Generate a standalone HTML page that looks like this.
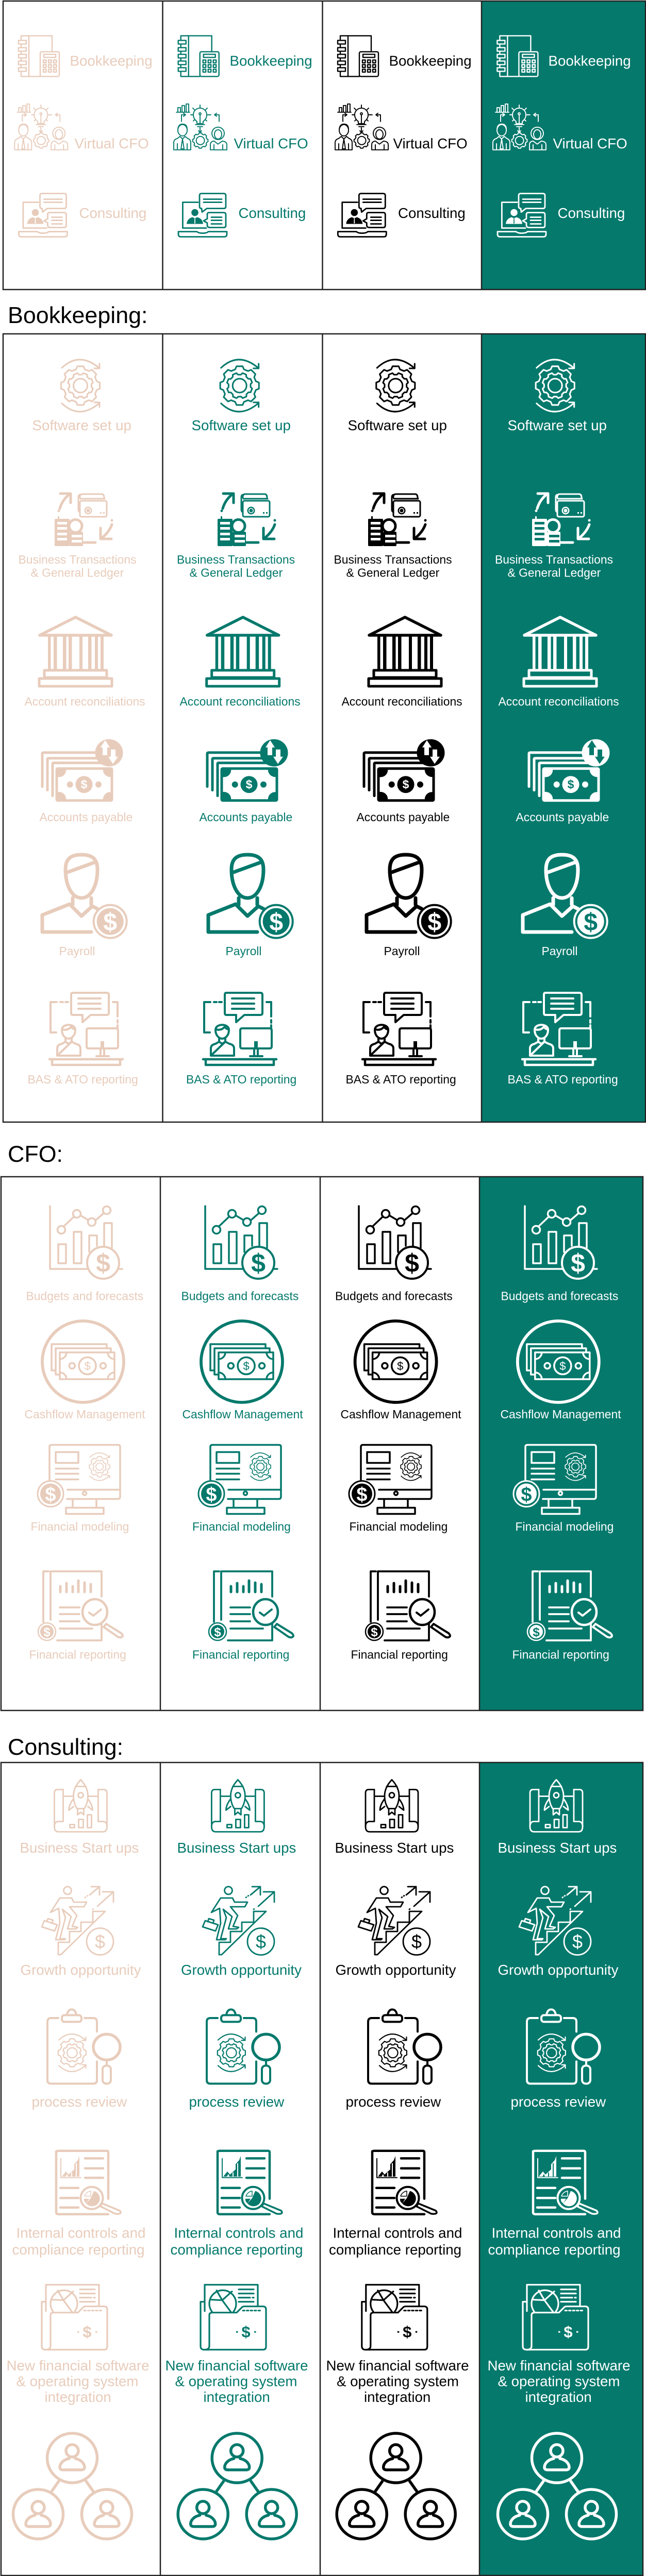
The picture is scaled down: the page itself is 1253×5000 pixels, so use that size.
<!DOCTYPE html>
<html><head><meta charset="utf-8"><style>
html,body{margin:0;padding:0;background:#fff}
svg{display:block}
text{font-family:"Liberation Sans",Arial,sans-serif;fill:currentColor}
.h{font-size:44.8px;fill:#000}
.a{font-size:27.7px}.b{font-size:22.9px}
.c1{color:#e8ccbb;--bg:#fff}.c2{color:#04796c;--bg:#fff}.c3{color:#000;--bg:#fff}.c4{color:#fff;--bg:#04796c}
.o{fill:none;stroke:currentColor;stroke-linecap:round;stroke-linejoin:round}
.f{fill:currentColor;stroke:none}
.w{fill:var(--bg);stroke:currentColor;stroke-linejoin:round}
.n{fill:var(--bg);stroke:none}
</style></head><body>
<svg width="1253" height="5000" viewBox="0 0 1253 5000" xmlns="http://www.w3.org/2000/svg">
<defs>
<path id="g8" d="M.831 -.223L.988 -.156 .988 .156 .831 .223 .745 .43 .809 .588 .588 .809 .43 .745 .223 .831 .156 .988 -.156 .988 -.223 .831 -.43 .745 -.588 .809 -.809 .588 -.745 .43 -.831 .223 -.988 .156 -.988 -.156 -.831 -.223 -.745 -.43 -.809 -.588 -.588 -.809 -.43 -.745 -.223 -.831 -.156 -.988 .156 -.988 .223 -.831 .43 -.745 .588 -.809 .809 -.588 .745 -.43Z"/>
<g id="book"><g class="o" stroke-width="2.4">
<path d="M5 0V79H42M5 0H65V31M20 0V79"/>
<g class="w" stroke-width="2.4"><rect x="0" y="9" width="15" height="7"/><rect x="0" y="23" width="15" height="7"/><rect x="0" y="36" width="15" height="7"/><rect x="0" y="49" width="15" height="7"/><rect x="0" y="62" width="15" height="7"/><rect x="42" y="31" width="37" height="48" rx="3"/><rect x="49" y="36" width="23" height="6"/>
<rect x="48" y="47" width="5.5" height="5.5"/><rect x="58" y="47" width="5.5" height="5.5"/><rect x="68" y="47" width="5.5" height="5.5"/><rect x="48" y="56" width="5.5" height="5.5"/><rect x="58" y="56" width="5.5" height="5.5"/><rect x="68" y="56" width="5.5" height="5.5"/><rect x="48" y="65" width="5.5" height="5.5"/><rect x="58" y="65" width="5.5" height="5.5"/><rect x="68" y="65" width="5.5" height="5.5"/></g>
</g></g>
<g id="virt"><g class="o" stroke-width="1.9">
<path d="M6 17H32M9 17V8H14V17M17 17V4H22V17M25 17V1H30V17"/>
<path d="M46 35Q39 30 39 22A13 13 0 1 1 65 22Q65 30 58 35V39H46ZM43 41H61M47 45H57M52 38V22"/><circle cx="52" cy="20" r="2"/>
<path d="M52 3V8M38 9L41 12M66 9L63 12M39 34L42 31M65 34L62 31M34 22H38M66 22H71M52 47V56M49 53L52 56L55 53"/>
<use href="#g8" transform="translate(52.6 72) scale(15)" stroke-width=".13"/><circle cx="52.6" cy="72" r="8"/>
<ellipse cx="18" cy="52" rx="9" ry="11"/><path d="M9 50Q10 40 18 40Q27 40 27 50M1 90V76Q1 70 8 68L13 64L18 69L23 64L28 68Q34 70 34 76V90ZM18 69L15 88H21ZM8 78V90M27 78V90"/>
<circle cx="87" cy="58" r="12"/><ellipse cx="87" cy="60" rx="7" ry="9"/><path d="M72 90V80Q72 74 79 73L87 79L95 73Q104 74 104 80V90ZM79 80V90M96 80V90"/>
<path d="M16 35V22H23M20 19L24 22L20 25M89 35V22H81M84 19L80 22L84 25M34 22H38M68 22H73"/>
</g></g>
<g id="cons"><g class="o" stroke-width="2.8">
<path d="M39 18H9.4V68H55M1 75H37Q40 78 48 78Q56 78 59 75H95V80Q95 85 90 85H6Q1 85 1 80Z"/>
<path d="M46 1H89Q93 1 93 5V26Q93 30 89 30H56L47 37L46 30Q42 30 42 26V5Q42 1 46 1Z" />
<path d="M50 12H85M50 18H85" />
<path d="M60 38H89Q93 38 93 42V63Q93 67 89 67H62Q57 67 57 62V58L50 54L57 50V42Q57 38 60 38Z"/>
<path d="M65 47H85M65 53H85M65 60H85"/>
</g><circle class="f" cx="33" cy="38" r="6.8"/><path class="f" d="M17 60Q18 50 28 47L33 49L38 47Q48 50 49 60Z"/><path class="n" d="M32.3 49H33.7L34 59H32Z"/></g>
<g id="gr"><g class="o" stroke-width="3">
<use href="#g8" transform="translate(38 51.5) scale(38)" stroke-width=".08"/>
<use href="#g8" transform="translate(38 51.5) scale(25) rotate(22)" stroke-width=".12"/>
<circle cx="38" cy="51.5" r="13.5"/>
<path d="M2 17Q36 -15 74 17M75 9V18H65M2 86Q36 118 74 86M65 84H75V93"/></g></g>
<g id="biz"><g class="o" stroke-width="5">
<path d="M11 31Q16 14 30 3M12 2H32V20M112 62Q107 76 94 87M90 69V90H111"/>
<path d="M55 97H80" />
</g>
<circle class="f" cx="9" cy="35.500" r="2.500"/><circle class="f" cx="112" cy="54" r="2.500"/>
<g class="o" stroke-width="3"><path d="M50 10V8Q50 3 55 3H92Q97 3 97 10"/><path d="M50 38Q47 37 47 33V9Q47 4 52 4"/></g>
<rect class="w" x="50" y="16" width="52" height="31" rx="3" stroke-width="3"/>
<path class="o" stroke-width="3" d="M51 12H98"/>
<circle class="f" cx="66" cy="35" r="7.500"/><circle class="n" cx="66" cy="35" r="5"/><circle class="f" cx="66" cy="35" r="3.500"/>
<rect class="f" x="89" y="38" width="3" height="3"/><rect class="f" x="95" y="38" width="3" height="3"/>
<rect class="f" x="1" y="51" width="29" height="53" rx="2"/><rect class="f" x="7" y="46" width="3" height="7"/>
<g class="n"><rect x="6" y="57" width="19" height="5"/><rect x="6" y="67" width="19" height="5"/><rect x="6" y="78" width="19" height="5"/><rect x="6" y="88" width="19" height="5"/></g>
<circle class="w" cx="41.500" cy="65" r="12.500" stroke-width="5"/>
<rect class="f" x="30" y="76" width="26" height="28" rx="2"/>
<rect class="n" x="34" y="82" width="20" height="5"/><rect class="n" x="34" y="92" width="20" height="5"/>
</g>
<g id="bank"><g class="o" stroke-width="5.5">
<path d="M3 38L72.500 3L142 38Z"/>
</g><g class="f">
<rect x="19" y="40" width="5.500" height="66"/><rect x="30" y="40" width="6.500" height="66"/><rect x="48" y="40" width="6.500" height="66"/><rect x="59" y="40" width="6.500" height="66"/><rect x="80" y="40" width="6" height="66"/><rect x="97" y="40" width="6.500" height="66"/><rect x="110" y="40" width="6" height="66"/><rect x="121" y="40" width="6" height="66"/></g>
<rect class="w" x="12" y="106" width="121" height="14" stroke-width="5"/><rect class="w" x="2" y="122" width="141" height="15" stroke-width="5"/></g>
<g id="pay"><g class="o" stroke-width="5">
<path d="M2 92V28Q2 26 5 26H106M12 99V39Q12 37 14 37H112M22 110V48Q22 46 24 46H120"/></g>
<rect class="w" x="30" y="57" width="107" height="62" rx="2" stroke-width="5"/>
<g class="f"><path d="M30 57H48A14 14 0 0 1 30 73ZM137 57H120A14 14 0 0 0 137 73ZM30 119H48A14 14 0 0 0 30 103ZM137 119H120A14 14 0 0 1 137 103Z"/><circle cx="83" cy="88" r="16.500"/><circle cx="55.700" cy="88" r="6"/><circle cx="111" cy="88" r="6"/></g>
<text x="83" y="96" font-size="23" font-weight="700" text-anchor="middle" style="fill:var(--bg)">$</text>
<ellipse class="f" cx="131.500" cy="26.500" rx="27" ry="26.500"/>
<path class="n" d="M124 2L133 16H128V31H119V16H115ZM139 48L149 34H144V20H135V34H130Z"/></g>
<g id="roll"><g class="o" stroke-width="7">
<path d="M79 3C55 3 48 14 48 32C48 62 60 87 79 87C98 87 110 62 110 32C110 14 103 3 79 3Z"/>
<path d="M52 37L104 18M62 87V100M98 87V100M100 103L79 122L56 99L3 120V153H98M100 103L110 108"/></g>
<circle class="w" cx="134.700" cy="132.600" r="32" stroke-width="4"/><circle class="f" cx="134.700" cy="132.600" r="26"/>
<text x="134.700" y="150" font-size="48" font-weight="700" text-anchor="middle" style="fill:var(--bg)">$</text></g>
<g id="bas"><g class="o" stroke-width="4">
<path d="M46 2H112Q116 2 116 6V41Q116 45 112 45H81L65 59V45H46Q43 45 43 41V6Q43 2 46 2ZM57 13H100M57 23H100M57 33H100"/>
<path d="M15 20H3V79H14M22 20H27M32 20H37M124 20H133V48M133 55V60M133 65V70"/>
<path d="M25 74C25 61 51 61 51 74C51 86 43 91 38 91C33 91 25 86 25 74ZM26 73Q36 76 43 68Q46 73 51 73M32 91V97L38 101L44 97V91M16 124V110Q16 103 25 101L32 97M44 97L52 101Q61 103 61 110V124H16Z"/>
<path d="M73 75Q73 71 77 71H130Q134 71 134 75V106Q134 110 130 110H77Q73 110 73 106ZM100 110V124M107 110V124M92 125H116"/></g>
<rect class="f" x="100" y="96" width="7" height="15"/>
<path class="o" stroke-width="4.500" d="M1 131H143M6 133V142H138V133"/></g>
<g id="bud"><g class="o" stroke-width="3.500">
<path d="M3 1V123H76M136 123H143M29 41L50 21M62 19L77 28M92 28L107 15"/>
<circle cx="25" cy="47" r="7.500"/><circle cx="55" cy="16" r="7.500"/><circle cx="84" cy="32" r="7.500"/><circle cx="113" cy="9" r="7.500"/>
<rect x="19" y="75" width="15" height="37"/><rect x="49" y="51" width="15" height="61"/><path d="M79 90V58H94V78M108 78V34H123V82"/></g>
<circle class="w" cx="106" cy="111" r="31" stroke-width="4"/>
<text x="106" y="129" font-size="50" font-weight="700" text-anchor="middle">$</text></g>
<g id="cash"><circle class="o" cx="82" cy="82" r="79" stroke-width="5.800"/><g class="o" stroke-width="3.500">
<path d="M29 99H21V48H128V55M37 107H29V56H136V64"/>
<rect x="37" y="64" width="106" height="52"/>
<path d="M37 77A13 13 0 0 0 50 64M130 64A13 13 0 0 0 143 77M37 103A13 13 0 0 1 50 116M130 116A13 13 0 0 1 143 103"/>
<circle cx="90.600" cy="90" r="16.500"/><circle cx="60.800" cy="90" r="5.500"/><circle cx="121" cy="90" r="5.500"/></g>
<text x="90.600" y="98" font-size="22" text-anchor="middle">$</text></g>
<g id="model"><g class="o" stroke-width="3.500">
<path d="M24 72V5Q24 1 28 1H157Q161 1 161 5V101Q161 106 157 106H58M59 88H161M69 106V122M115 106V122"/>
<rect x="36" y="15" width="44" height="21"/><rect x="56" y="123" width="73" height="12"/>
<path d="M36 47H80M36 57H80M36 68H80"/><circle cx="92" cy="95" r="3.500"/></g>
<use href="#gr" transform="translate(101 16) scale(.53)"/>
<circle class="w" cx="26" cy="96" r="25" stroke-width="3"/><circle class="f" cx="26" cy="96" r="20"/>
<text x="26" y="110" font-size="38" font-weight="700" text-anchor="middle" style="fill:var(--bg)">$</text></g>
<g id="rep"><g class="o" stroke-width="3.800" stroke-linecap="butt">
<path d="M21 2H11V100M25 96V2H124V51M124 99V136H38M43 72H81M43 85H81M43 99H81M43 113H106"/>
<path d="M44 42V31M56 42V25M68 42V31M79 42V20M91 42V24M103 42V27" stroke-width="5"/></g>
<ellipse class="w" cx="111" cy="81" rx="24" ry="25" stroke-width="4.500"/>
<path class="o" stroke-width="4" d="M100 82L108 88L123 76"/>
<path class="w" stroke-width="4" d="M133 104L162 122Q168 128 162 130Q158 131 154 128L128 110Z"/>
<circle class="w" cx="18" cy="119" r="17" stroke-width="2.500"/><circle class="f" cx="18" cy="119" r="13"/>
<text x="18" y="128" font-size="24" font-weight="700" text-anchor="middle" style="fill:var(--bg)">$</text></g>
<g id="start"><g class="o" stroke-width="2.800">
<path d="M38 33H18M86 33H66M18 20V82H9Q1 82 1 92Q1 102 9 102H95Q103 102 103 92Q103 82 95 82H86V20"/>
<path d="M18 20H7Q1 20 1 27V92M86 20H97Q103 20 103 27V92"/>
<path d="M52 1Q66 16 66 32Q66 46 59 57H45Q38 46 38 32Q38 16 52 1ZM42 14H62M38 38Q29 50 29 60L38 53M66 38Q75 50 75 60L66 53M46 57V69L52 64L58 69V57"/>
<circle cx="52" cy="31" r="5"/>
<rect x="31" y="88" width="9" height="6"/><rect x="48" y="78" width="9" height="16"/><rect x="65" y="69" width="8" height="25"/></g></g>
<g id="grow"><g class="o" stroke-width="2.800">
<circle cx="50" cy="7.400" r="7.500"/>
<path d="M35 22H58L62 30H87L82 39H54L68 56L59 77L70 79L66 82H50L57 58L40 44L46 60L35 101L46 101L44 103H27L35 71L33 42L17 50Z"/>
<path d="M32 132V108H54V87H76V69H99V48H123L37 132Z"/>
<path d="M5 66L30 74L25 86L0 78ZM10 68L12 62L22 65L20 71"/>
<path d="M118 10H139V30M139 10L108 38" /><path d="M99 44L103 41" stroke-dasharray="1 4"/>
<path d="M96 0H112V16M112 0L93 16" /><path d="M84 21L91 16" stroke-dasharray="1 4"/>
<circle cx="113" cy="106.500" r="26"/></g>
<text x="113" y="119" font-size="36" text-anchor="middle">$</text></g>
<g id="proc"><g class="o" stroke-width="4">
<path d="M23 18.600H9Q2 18.600 2 26V139Q2 146 9 146H91Q98 146 98 139V103M74 18.600H91Q98 18.600 98 26V45"/>
<rect x="30" y="13" width="38" height="13" rx="5"/><path d="M40 12Q42 2 49 2Q56 2 58 12"/></g>
<use href="#gr" transform="translate(22.500 49) scale(.72)"/>
<ellipse class="o" cx="117" cy="75" rx="26" ry="25" stroke-width="5.500"/>
<path class="o" stroke-width="4" d="M117 101V110"/><rect class="o" stroke-width="4" x="109" y="111" width="16" height="35" rx="7"/></g>
<g id="inter"><g class="o" stroke-width="4.500">
<path d="M4 5Q4 2 8 2H102Q105 2 105 5V95M4 3V121Q4 125 8 125H105"/>
<path d="M60 16.700H95M60 36H95M60 54.400H95M12 74H47M12 93.600H47M12 112H47"/></g>
<path class="o" stroke-width="2" d="M13 17V54H52"/>
<path class="f" d="M15 52L23 42L28 48L39 38V28L46 20L49 12V52Z"/>
<path class="n" d="M25 47L27 52H22ZM33 44H35V52H33ZM42 26H44V52H42Z"/>
<circle class="w" cx="73" cy="93.600" r="21.500" stroke-width="4"/>
<path class="f" d="M77 80A15 15 0 1 1 62 104L71 94Z"/><path class="o" stroke-width="1.500" d="M59 90A15 15 0 0 1 71 80V90Z"/>
<path class="f" d="M58 95H68L62 104Q57 100 58 95Z"/>
<path class="w" stroke-width="3.500" d="M93 104L127 118Q131 122 127 124Q122 125 118 124L90 110Z"/></g>
<g id="fold"><g class="o" stroke-width="3.200" stroke-linecap="butt">
<path d="M9 52V1H112V42M9 34H1V120Q1 127 8 127H16Q18 127 18 120"/>
<path d="M75 10H104M75 18H104M75 26H97M102 26H104M75 34H104"/>
<path d="M23 53A26 26 0 1 1 65 53M43 31L22 30M43 31L32 12M43 31L62 14M43 31L60 54"/></g>
<path class="w" stroke-width="3.200" d="M18 60Q18 55 24 55H71L81 45Q83 43 86 43H122Q128 43 128 49V121Q128 127 122 127H8Q18 127 18 120Z"/>
<path class="o" stroke-width="3" stroke-linecap="butt" d="M83 51H120" stroke-dasharray="3.500 4"/>
<text x="89" y="103" font-size="31" font-weight="700" text-anchor="middle">$</text>
<rect class="f" x="70" y="91" width="3.500" height="3"/><rect class="f" x="105" y="91" width="3.500" height="3"/></g>
<g id="pers"><g class="o" stroke-width="5.500"><circle cx="0" cy="-13" r="12"/><path d="M-6 2C-20 5 -24 14 -24 19C-24 23 -21 24 -18 24H18C21 24 24 23 24 19C24 14 20 5 6 2"/></g></g>
<g id="peop"><g class="o" stroke-width="5.500">
<ellipse cx="118" cy="51" rx="48.500" ry="48"/><ellipse cx="52" cy="160" rx="48.500" ry="48"/><ellipse cx="185" cy="160" rx="48.500" ry="48"/>
<path d="M92 96L78 116M145 96L159 116"/></g>
<use href="#pers" x="118" y="50"/><use href="#pers" x="52" y="160"/><use href="#pers" x="185" y="160"/></g>
</defs>

<rect x="934" y="2" width="318" height="560" fill="#04796c"/>
<rect x="934" y="648" width="318" height="1530" fill="#04796c"/>
<rect x="930" y="2284" width="317" height="1036" fill="#04796c"/>
<rect x="930" y="3421" width="317" height="1578" fill="#04796c"/>
<g fill="none" stroke="#222" stroke-width="2.500">
<rect x="6" y="2" width="1246" height="560"/><path d="M315.500 2V562M625.500 2V562M934 2V562"/>
<rect x="6" y="648" width="1246" height="1530"/><path d="M315.500 648V2178M625.500 648V2178M934 648V2178"/>
<rect x="2" y="2284" width="1245" height="1036"/><path d="M311 2284V3320M621 2284V3320M930 2284V3320"/>
<rect x="2" y="3421" width="1245" height="1578"/><path d="M311 3421V4999M621 3421V4999M930 3421V4999"/>
</g>
<text class="h" x="15" y="627">Bookkeeping:</text>
<text class="h" x="15" y="2255">CFO:</text>
<text class="h" x="15" y="3406">Consulting:</text>

<g class="c1">
<use href="#book" x="36" y="69.400"/><use href="#virt" x="27.300" y="200.800"/><use href="#cons" x="35.500" y="374.600"/>
<text class="a" x="135.500" y="127.500">Bookkeeping</text><text class="a" x="144.500" y="288">Virtual CFO</text><text class="a" x="153.500" y="423">Consulting</text>
<use href="#gr" x="118" y="697"/><text class="a" x="62.500" y="835">Software set up</text>
<use href="#biz" x="105" y="956"/><text class="b" x="35.500" y="1094">Business Transactions</text><text class="b" x="59.500" y="1119.600">&amp; General Ledger</text>
<use href="#bank" x="74" y="1195"/><text class="b" x="47.500" y="1369.500">Account reconciliations</text>
<use href="#pay" x="80" y="1434.700"/><text class="b" x="76.500" y="1594">Accounts payable</text>
<use href="#roll" x="79" y="1656"/><text class="b" x="114.500" y="1854">Payroll</text>
<use href="#bas" x="95" y="1925"/><text class="b" x="53.500" y="2103">BAS &amp; ATO reporting</text>
<use href="#bud" x="94" y="2340"/><text class="b" x="50.500" y="2523.500">Budgets and forecasts</text>
<use href="#cash" x="79" y="2561"/><text class="b" x="47.500" y="2753">Cashflow Management</text>
<use href="#model" x="72" y="2803.500"/><text class="b" x="59.500" y="2971">Financial modeling</text>
<use href="#rep" x="73" y="3048"/><text class="b" x="56.500" y="3219.600">Financial reporting</text>
<use href="#start" x="104.500" y="3453.500"/><text class="a" x="38.500" y="3596">Business Start ups</text>
<use href="#grow" x="81" y="3662"/><text class="a" x="39.500" y="3833">Growth opportunity</text>
<use href="#proc" x="90" y="3898.400"/><text class="a" x="61.500" y="4089">process review</text>
<use href="#inter" x="105" y="4172.700"/><text class="a" x="31.500" y="4343.700">Internal controls and</text><text class="a" x="23.500" y="4376">compliance reporting</text>
<use href="#fold" x="80" y="4433.700"/><text class="a" x="12.500" y="4600.800">New financial software</text><text class="a" x="31.500" y="4631.400">&amp; operating system</text><text class="a" x="86.500" y="4662">integration</text>
<use href="#peop" x="22" y="4720"/>
</g>

<g class="c2">
<use href="#book" x="345.700" y="69.400"/><use href="#virt" x="336" y="200.800"/><use href="#cons" x="345" y="374.600"/>
<text class="a" x="445.500" y="127.500">Bookkeeping</text><text class="a" x="453.500" y="288">Virtual CFO</text><text class="a" x="462.500" y="423">Consulting</text>
<use href="#gr" x="426.700" y="697"/><text class="a" x="371.500" y="835">Software set up</text>
<use href="#biz" x="421" y="956"/><text class="b" x="343" y="1094">Business Transactions</text><text class="b" x="367.500" y="1119.600">&amp; General Ledger</text>
<use href="#bank" x="398.700" y="1195"/><text class="b" x="348.500" y="1369.500">Account reconciliations</text>
<use href="#pay" x="400" y="1434.700"/><text class="b" x="386.500" y="1594">Accounts payable</text>
<use href="#roll" x="401" y="1656"/><text class="b" x="437.500" y="1854">Payroll</text>
<use href="#bas" x="393" y="1925"/><text class="b" x="361" y="2103">BAS &amp; ATO reporting</text>
<use href="#bud" x="395" y="2340"/><text class="b" x="351.500" y="2523.500">Budgets and forecasts</text>
<use href="#cash" x="387" y="2561"/><text class="b" x="353.500" y="2753">Cashflow Management</text>
<use href="#model" x="384" y="2803.500"/><text class="b" x="373" y="2971">Financial modeling</text>
<use href="#rep" x="404" y="3048"/><text class="b" x="373" y="3219.600">Financial reporting</text>
<use href="#start" x="409.400" y="3453.500"/><text class="a" x="343.500" y="3596">Business Start ups</text>
<use href="#grow" x="393" y="3662"/><text class="a" x="351" y="3833">Growth opportunity</text>
<use href="#proc" x="399" y="3898.400"/><text class="a" x="366.500" y="4089">process review</text>
<use href="#inter" x="418" y="4172.700"/><text class="a" x="337.500" y="4343.700">Internal controls and</text><text class="a" x="330.500" y="4376">compliance reporting</text>
<use href="#fold" x="388" y="4433.700"/><text class="a" x="320.500" y="4600.800">New financial software</text><text class="a" x="339.500" y="4631.400">&amp; operating system</text><text class="a" x="394.500" y="4662">integration</text>
<use href="#peop" x="341.700" y="4720"/>
</g>

<g class="c3">
<use href="#book" x="655" y="69.400"/><use href="#virt" x="649" y="200.800"/><use href="#cons" x="654.300" y="374.600"/>
<text class="a" x="754.500" y="127.500">Bookkeeping</text><text class="a" x="762.500" y="288">Virtual CFO</text><text class="a" x="772" y="423">Consulting</text>
<use href="#gr" x="729.300" y="697"/><text class="a" x="674.500" y="835">Software set up</text>
<use href="#biz" x="713" y="956"/><text class="b" x="647.500" y="1094">Business Transactions</text><text class="b" x="671.500" y="1119.600">&amp; General Ledger</text>
<use href="#bank" x="713" y="1195"/><text class="b" x="662.500" y="1369.500">Account reconciliations</text>
<use href="#pay" x="704" y="1434.700"/><text class="b" x="691.500" y="1594">Accounts payable</text>
<use href="#roll" x="708" y="1656"/><text class="b" x="744.500" y="1854">Payroll</text>
<use href="#bas" x="702" y="1925"/><text class="b" x="670.500" y="2103">BAS &amp; ATO reporting</text>
<use href="#bud" x="693" y="2340"/><text class="b" x="650" y="2523.500">Budgets and forecasts</text>
<use href="#cash" x="685.600" y="2561"/><text class="b" x="660.500" y="2753">Cashflow Management</text>
<use href="#model" x="676" y="2803.500"/><text class="b" x="677.500" y="2971">Financial modeling</text>
<use href="#rep" x="708" y="3048"/><text class="b" x="680.500" y="3219.600">Financial reporting</text>
<use href="#start" x="708" y="3453.500"/><text class="a" x="649.500" y="3596">Business Start ups</text>
<use href="#grow" x="695" y="3662"/><text class="a" x="650.500" y="3833">Growth opportunity</text>
<use href="#proc" x="712" y="3898.400"/><text class="a" x="670.500" y="4089">process review</text>
<use href="#inter" x="718" y="4172.700"/><text class="a" x="645.500" y="4343.700">Internal controls and</text><text class="a" x="638" y="4376">compliance reporting</text>
<use href="#fold" x="700.800" y="4433.700"/><text class="a" x="632.500" y="4600.800">New financial software</text><text class="a" x="653" y="4631.400">&amp; operating system</text><text class="a" x="706" y="4662">integration</text>
<use href="#peop" x="649.700" y="4720"/>
</g>

<g class="c4">
<use href="#book" x="964.400" y="69.400"/><use href="#virt" x="955" y="200.800"/><use href="#cons" x="964" y="374.600"/>
<text class="a" x="1063.500" y="127.500">Bookkeeping</text><text class="a" x="1072.500" y="288">Virtual CFO</text><text class="a" x="1081.500" y="423">Consulting</text>
<use href="#gr" x="1038.700" y="697"/><text class="a" x="984.500" y="835">Software set up</text>
<use href="#biz" x="1031" y="956"/><text class="b" x="960" y="1094">Business Transactions</text><text class="b" x="984.500" y="1119.600">&amp; General Ledger</text>
<use href="#bank" x="1014" y="1195"/><text class="b" x="966.500" y="1369.500">Account reconciliations</text>
<use href="#pay" x="1024" y="1434.700"/><text class="b" x="1000.500" y="1594">Accounts payable</text>
<use href="#roll" x="1011" y="1656"/><text class="b" x="1050.500" y="1854">Payroll</text>
<use href="#bas" x="1012" y="1925"/><text class="b" x="984.500" y="2103">BAS &amp; ATO reporting</text>
<use href="#bud" x="1015" y="2340"/><text class="b" x="971.500" y="2523.500">Budgets and forecasts</text>
<use href="#cash" x="1000.800" y="2561"/><text class="b" x="970.500" y="2753">Cashflow Management</text>
<use href="#model" x="995" y="2803.500"/><text class="b" x="999.500" y="2971">Financial modeling</text>
<use href="#rep" x="1022" y="3048"/><text class="b" x="993.500" y="3219.600">Financial reporting</text>
<use href="#start" x="1027" y="3453.500"/><text class="a" x="965.500" y="3596">Business Start ups</text>
<use href="#grow" x="1007" y="3662"/><text class="a" x="965.500" y="3833">Growth opportunity</text>
<use href="#proc" x="1020" y="3898.400"/><text class="a" x="990.500" y="4089">process review</text>
<use href="#inter" x="1030" y="4172.700"/><text class="a" x="953.500" y="4343.700">Internal controls and</text><text class="a" x="946.500" y="4376">compliance reporting</text>
<use href="#fold" x="1013" y="4433.700"/><text class="a" x="945.500" y="4600.800">New financial software</text><text class="a" x="965.500" y="4631.400">&amp; operating system</text><text class="a" x="1018.500" y="4662">integration</text>
<use href="#peop" x="962" y="4720"/>
</g>
</svg>
</body></html>
